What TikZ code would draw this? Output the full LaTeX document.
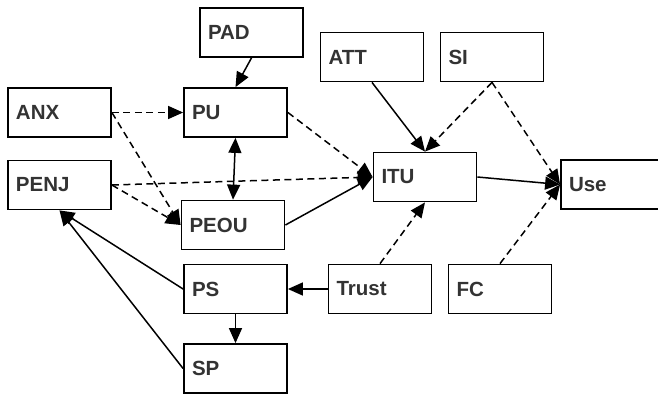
\documentclass[tikz,border=0pt]{standalone}
\usepackage{fontspec}
\setmainfont{Liberation Sans}
\usetikzlibrary{arrows.meta}
\definecolor{txt}{HTML}{333333}
\tikzset{
  box/.style={draw=black, line width=1.8pt, rectangle, minimum width=103pt, minimum height=49pt,
    text width=87pt, inner xsep=8pt, align=left, text=txt, font=\fontsize{20.5}{22}\selectfont\bfseries},
  tip/.tip={Triangle[length=15pt,width=13pt]},
  conn/.style={line width=1.5pt, -tip},
  dconn/.style={conn, dash pattern=on 7pt off 4.5pt},
}
\begin{document}
\begin{tikzpicture}[x=1pt,y=-1pt]
\useasboundingbox (0,0) rectangle (658,394);
\node[box] (PAD) at (251.5,32.5) {PAD};
\node[box] (ANX) at (59.5,112.5) {ANX};
\node[box] (PU) at (235.5,112.5) {PU};
\node[box] (PENJ) at (59.5,185) {PENJ};
\node[box] (PEOU) at (233,225) {PEOU};
\node[box] (PS) at (235.5,289) {PS};
\node[box] (SP) at (235.5,368.5) {SP};
\node[box] (Trust) at (380,289) {Trust};
\node[box] (FC) at (500,289) {FC};
\node[box] (ATT) at (372,57) {ATT};
\node[box] (SI) at (492,57) {SI};
\node[box] (ITU) at (425,177) {ITU};
\node[box] (Use) at (612.5,184.5) {Use};

\draw[conn] (PAD.south) -- (PU.north);
\draw[dconn] (ANX.east) -- (PU.west);
\draw[dconn] (ANX.east) -- (PEOU.west);
\draw[dconn] (PENJ.east) -- (PEOU.west);
\draw[dconn] (PENJ.east) -- (ITU.west);
\draw[dconn] (PU.east) -- (ITU.west);
\draw[conn] (PEOU.east) -- (ITU.west);
\draw[conn, tip-tip] (PU.south) -- (PEOU.north);
\draw[conn] (ATT.south) -- (ITU.north);
\draw[dconn] (SI.south) -- (ITU.north);
\draw[dconn] (SI.south) -- (Use.west);
\draw[conn] (ITU.east) -- (Use.west);
\draw[dconn] (FC.north) -- (Use.west);
\draw[dconn] (Trust.north) -- (ITU.south);
\draw[conn] (Trust.west) -- (PS.east);
\draw[conn] (PS.south) -- (SP.north);
\draw[conn] (PS.west) -- (PENJ.south);
\draw[conn] (SP.west) -- (PENJ.south);
\end{tikzpicture}
\end{document}
